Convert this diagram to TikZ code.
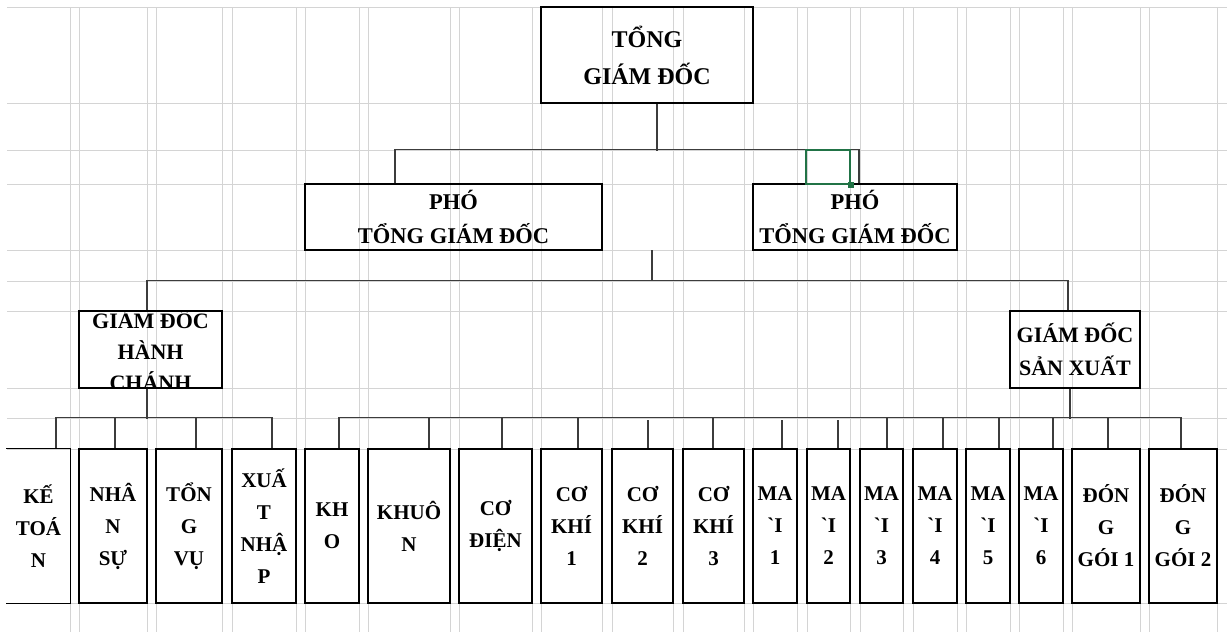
\documentclass[tikz,border=0pt]{standalone}
\usepackage{fontspec}
\newfontfamily\cellfont{Liberation Serif}
\usetikzlibrary{calc}
\definecolor{gridc}{HTML}{D4D4D4}
\definecolor{connc}{HTML}{3C3C3C}
\definecolor{selc}{HTML}{217346}
\tikzset{
  cell/.style={draw=black, line width=1.3pt, inner sep=0pt, align=center, text=black},
  topbox/.style={cell, font=\cellfont\bfseries\fontsize{24}{37}\selectfont},
  midbox/.style={cell, minimum height=66pt, font=\cellfont\bfseries\fontsize{22.5}{34}\selectfont},
  lvbox/.style={cell, minimum height=77pt, font=\cellfont\bfseries\fontsize{22}{33}\selectfont},
  lvtext/.style={inner sep=0pt, align=center, text=black, font=\cellfont\bfseries\fontsize{22}{31}\selectfont},
  botbox/.style={cell, minimum height=154pt, font=\cellfont\bfseries\fontsize{21}{32}\selectfont},
  conn/.style={draw=connc, line width=1.2pt},
  gridl/.style={draw=gridc, line width=0.9pt},
  selbox/.style={draw=selc, line width=2pt},
}
\begin{document}
\begin{tikzpicture}[x=1pt,y=-1pt]
\useasboundingbox (0,0) rectangle (1227,632);
\fill[white] (0,0) rectangle (1227,632);
% spreadsheet grid
\foreach \yy in {7,103,150,184,250,281,311,388,418,449,603}
  \draw[gridl] (7,\yy) -- (1227,\yy);
\foreach \xx in {70,79,147,156,222,232,296,305,359,368,450,459,532,541,602,612,673,683,744,753,797,807,850,860,903,913,957,966,1010,1019,1063,1072,1140,1149,1217}
  \draw[gridl] (\xx,7) -- (\xx,632);

% level 1
\node[topbox, minimum width=212pt, minimum height=96pt] (tgd) at (647,55) {TỔNG\\GIÁM ĐỐC};
% level 2
\node[midbox, minimum width=297pt] (pho1) at (453.5,217) {PHÓ\\TỔNG GIÁM ĐỐC};
\node[midbox, minimum width=204pt] (pho2) at (855,217) {PHÓ\\TỔNG GIÁM ĐỐC};
\coordinate (stub) at (652,250);
% level 3
\node[lvbox, minimum width=143pt] (hc) at (150.5,349.5) {};
\begin{scope}
  \clip (hc.south west) rectangle (hc.north east);
  \node[lvtext] (hctext) at (150.5,349.5) {GIÁM ĐỐC\\HÀNH\\CHÁNH};
\end{scope}
\node[lvbox, minimum width=130pt] (sx) at (1075,349.5) {GIÁM ĐỐC\\SẢN XUẤT};

% level 4
\node[botbox, draw=none, minimum width=63pt] (b1) at (38.5,526) {KẾ\\TOÁ\\N};
\draw[black, line width=1.3pt] (b1.north west) -- (b1.north east) -- (b1.south east) -- (b1.south west);
\node[botbox, minimum width=68pt] (b2) at (113,526) {NHÂ\\N\\SỰ};
\node[botbox, minimum width=66pt] (b3) at (189,526) {TỔN\\G\\VỤ};
\node[botbox, minimum width=64pt] (b4) at (264,526) {XUẤ\\T\\NHẬ\\P};
\node[botbox, minimum width=54pt] (b5) at (332,526) {KH\\O};
\node[botbox, minimum width=82pt] (b6) at (409,526) {KHUÔ\\N};
\node[botbox, minimum width=73pt] (b7) at (495.5,526) {CƠ\\ĐIỆN};
\node[botbox, minimum width=61pt] (b8) at (571.5,526) {CƠ\\KHÍ\\1};
\node[botbox, minimum width=61pt] (b9) at (642.5,526) {CƠ\\KHÍ\\2};
\node[botbox, minimum width=61pt] (b10) at (713.5,526) {CƠ\\KHÍ\\3};
\node[botbox, minimum width=44pt] (b11) at (775,526) {MA\\`I\\1};
\node[botbox, minimum width=43pt] (b12) at (828.5,526) {MA\\`I\\2};
\node[botbox, minimum width=43pt] (b13) at (881.5,526) {MA\\`I\\3};
\node[botbox, minimum width=44pt] (b14) at (935,526) {MA\\`I\\4};
\node[botbox, minimum width=44pt] (b15) at (988,526) {MA\\`I\\5};
\node[botbox, minimum width=44pt] (b16) at (1041,526) {MA\\`I\\6};
\node[botbox, minimum width=68pt] (b17) at (1106,526) {ĐÓN\\G\\GÓI 1};
\node[botbox, minimum width=68pt] (b18) at (1183,526) {ĐÓN\\G\\GÓI 2};

% connectors
\draw[conn] ([xshift=10pt]tgd.south) -- ++(0,47);
\draw[conn] ([xshift=-58.5pt]pho1.north) -- ++(0,-34) -| ([xshift=4pt]pho2.north);
\draw[conn] (stub) -- ++(0,31);
\draw[conn] ([xshift=-3.5pt]hc.north) -- ++(0,-30) -| ([xshift=-7pt]sx.north);

\draw[conn] ([xshift=-3.5pt]hc.south) -- ++(0,30);
\draw[conn] ([xshift=17.5pt]b1.north) -- ++(0,-31) -| ([xshift=8pt]b4.north);
\draw[conn] ([xshift=2pt]b2.north) -- ++(0,-31);
\draw[conn] ([xshift=7pt]b3.north) -- ++(0,-31);

\draw[conn] ([xshift=-5pt]sx.south) -- ++(0,30);
\draw[conn] ([xshift=7pt]b5.north) -- ++(0,-31) -| ([xshift=-2pt]b18.north);
\draw[conn] ([xshift=20pt]b6.north) -- ++(0,-31);
\draw[conn] ([xshift=6.5pt]b7.north) -- ++(0,-31);
\draw[conn] ([xshift=6.5pt]b8.north) -- ++(0,-31);
\draw[conn] ([xshift=5.5pt]b9.north) -- ++(0,-28);
\draw[conn] ([xshift=-0.5pt]b10.north) -- ++(0,-31);
\draw[conn] ([xshift=7pt]b11.north) -- ++(0,-28);
\draw[conn] ([xshift=9.5pt]b12.north) -- ++(0,-28);
\draw[conn] ([xshift=5.5pt]b13.north) -- ++(0,-31);
\draw[conn] ([xshift=8pt]b14.north) -- ++(0,-31);
\draw[conn] ([xshift=11pt]b15.north) -- ++(0,-31);
\draw[conn] ([xshift=12pt]b16.north) -- ++(0,-31);
\draw[conn] ([xshift=2pt]b17.north) -- ++(0,-31);

% selected cell
\draw[selbox] (806,150) rectangle (850,184);
\fill[selc] (847.5,181.5) rectangle (853.5,187.5);
\end{tikzpicture}
\end{document}
